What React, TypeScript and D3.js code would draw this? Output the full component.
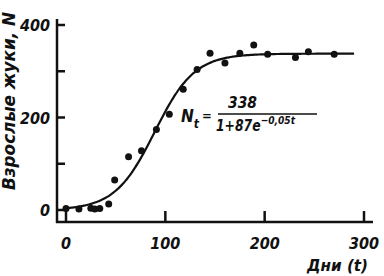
import React from "react";
import * as d3 from "d3";

const days = [0, 13, 25, 29, 34, 43, 49, 63, 76, 91, 104, 118, 132, 145, 160, 175, 189, 203, 231, 244, 270];
const beetles = [3, 2, 4, 2, 3, 13, 65, 115, 128, 174, 207, 261, 304, 339, 318, 339, 357, 337, 330, 342, 337];
const xTicks = [0, 100, 200, 300];
const yTicks = [0, 100, 200, 300, 400];
const yLabels = [0, 200, 400];
const K = 338, A = 87, R = 0.05;

const W = 384, H = 276;
const FONT = "'DejaVu Sans Condensed', 'DejaVu Sans', sans-serif";

export default function App() {
  const x = d3.scaleLinear().domain([0, 300]).range([66, 364]);
  const y = d3.scaleLinear().domain([0, 400]).range([210, 25]);
  const curveT = d3.range(0, 290.1, 2);
  const line = d3.line<number>().x(t => x(t)).y(t => y(K / (1 + A * Math.exp(-R * t)))).curve(d3.curveBasis);
  const axisY = 222, axisX = 57;
  const txt = { fontFamily: FONT, fontStyle: "italic", fontWeight: 700, fill: "#111" } as const;
  return (
    <svg width={W} height={H} style={{ position: "absolute", left: 0, top: 0, background: "#fff" }}>
      <g stroke="#111" strokeWidth={2.5} fill="none">
        <line x1={axisX} x2={axisX} y1={19} y2={axisY + 1} />
        <line x1={axisX - 1} x2={373} y1={axisY} y2={axisY} />
        {yTicks.map(v => <line key={v} x1={axisX} x2={axisX + 8} y1={y(v)} y2={y(v)} />)}
        {xTicks.map(v => <line key={v} x1={x(v)} x2={x(v)} y1={axisY} y2={axisY - 11} />)}
      </g>
      <path d={line(curveT) || ""} stroke="#111" strokeWidth={2.2} fill="none" />
      {days.map((d, i) => <circle key={i} cx={x(d)} cy={y(beetles[i])} r={3.5} fill="#111" />)}
      {yLabels.map(v => (
        <text key={v} x={50} y={y(v) + 6} textAnchor="end" fontSize={16} {...txt}>{v}</text>
      ))}
      {xTicks.map(v => (
        <text key={v} x={x(v)} y={249} textAnchor="middle" fontSize={16} {...txt}>{v}</text>
      ))}
      <text x={307} y={271} textLength={61} lengthAdjust="spacingAndGlyphs" fontSize={15} {...txt}>Дни (t)</text>
      <text transform={`translate(15,101) rotate(-90)`} textAnchor="middle" textLength={178} lengthAdjust="spacingAndGlyphs" fontSize={17} {...txt}>Взрослые жуки, N</text>
      <g {...txt}>
        <text x={181} y={122} fontSize={17}>N<tspan fontSize={12} dy={6}>t</tspan><tspan fontSize={13} dx={3} dy={-8}>=</tspan></text>
        <text x={228} y={108} fontSize={15} textLength={29} lengthAdjust="spacingAndGlyphs">338</text>
        <line x1={218} x2={317} y1={114} y2={114} stroke="#111" strokeWidth={1.6} />
        <text x={216} y={131} fontSize={15} textLength={79} lengthAdjust="spacingAndGlyphs">1+87e<tspan fontSize={11} dy={-7}>−0,05t</tspan></text>
      </g>
    </svg>
  );
}
